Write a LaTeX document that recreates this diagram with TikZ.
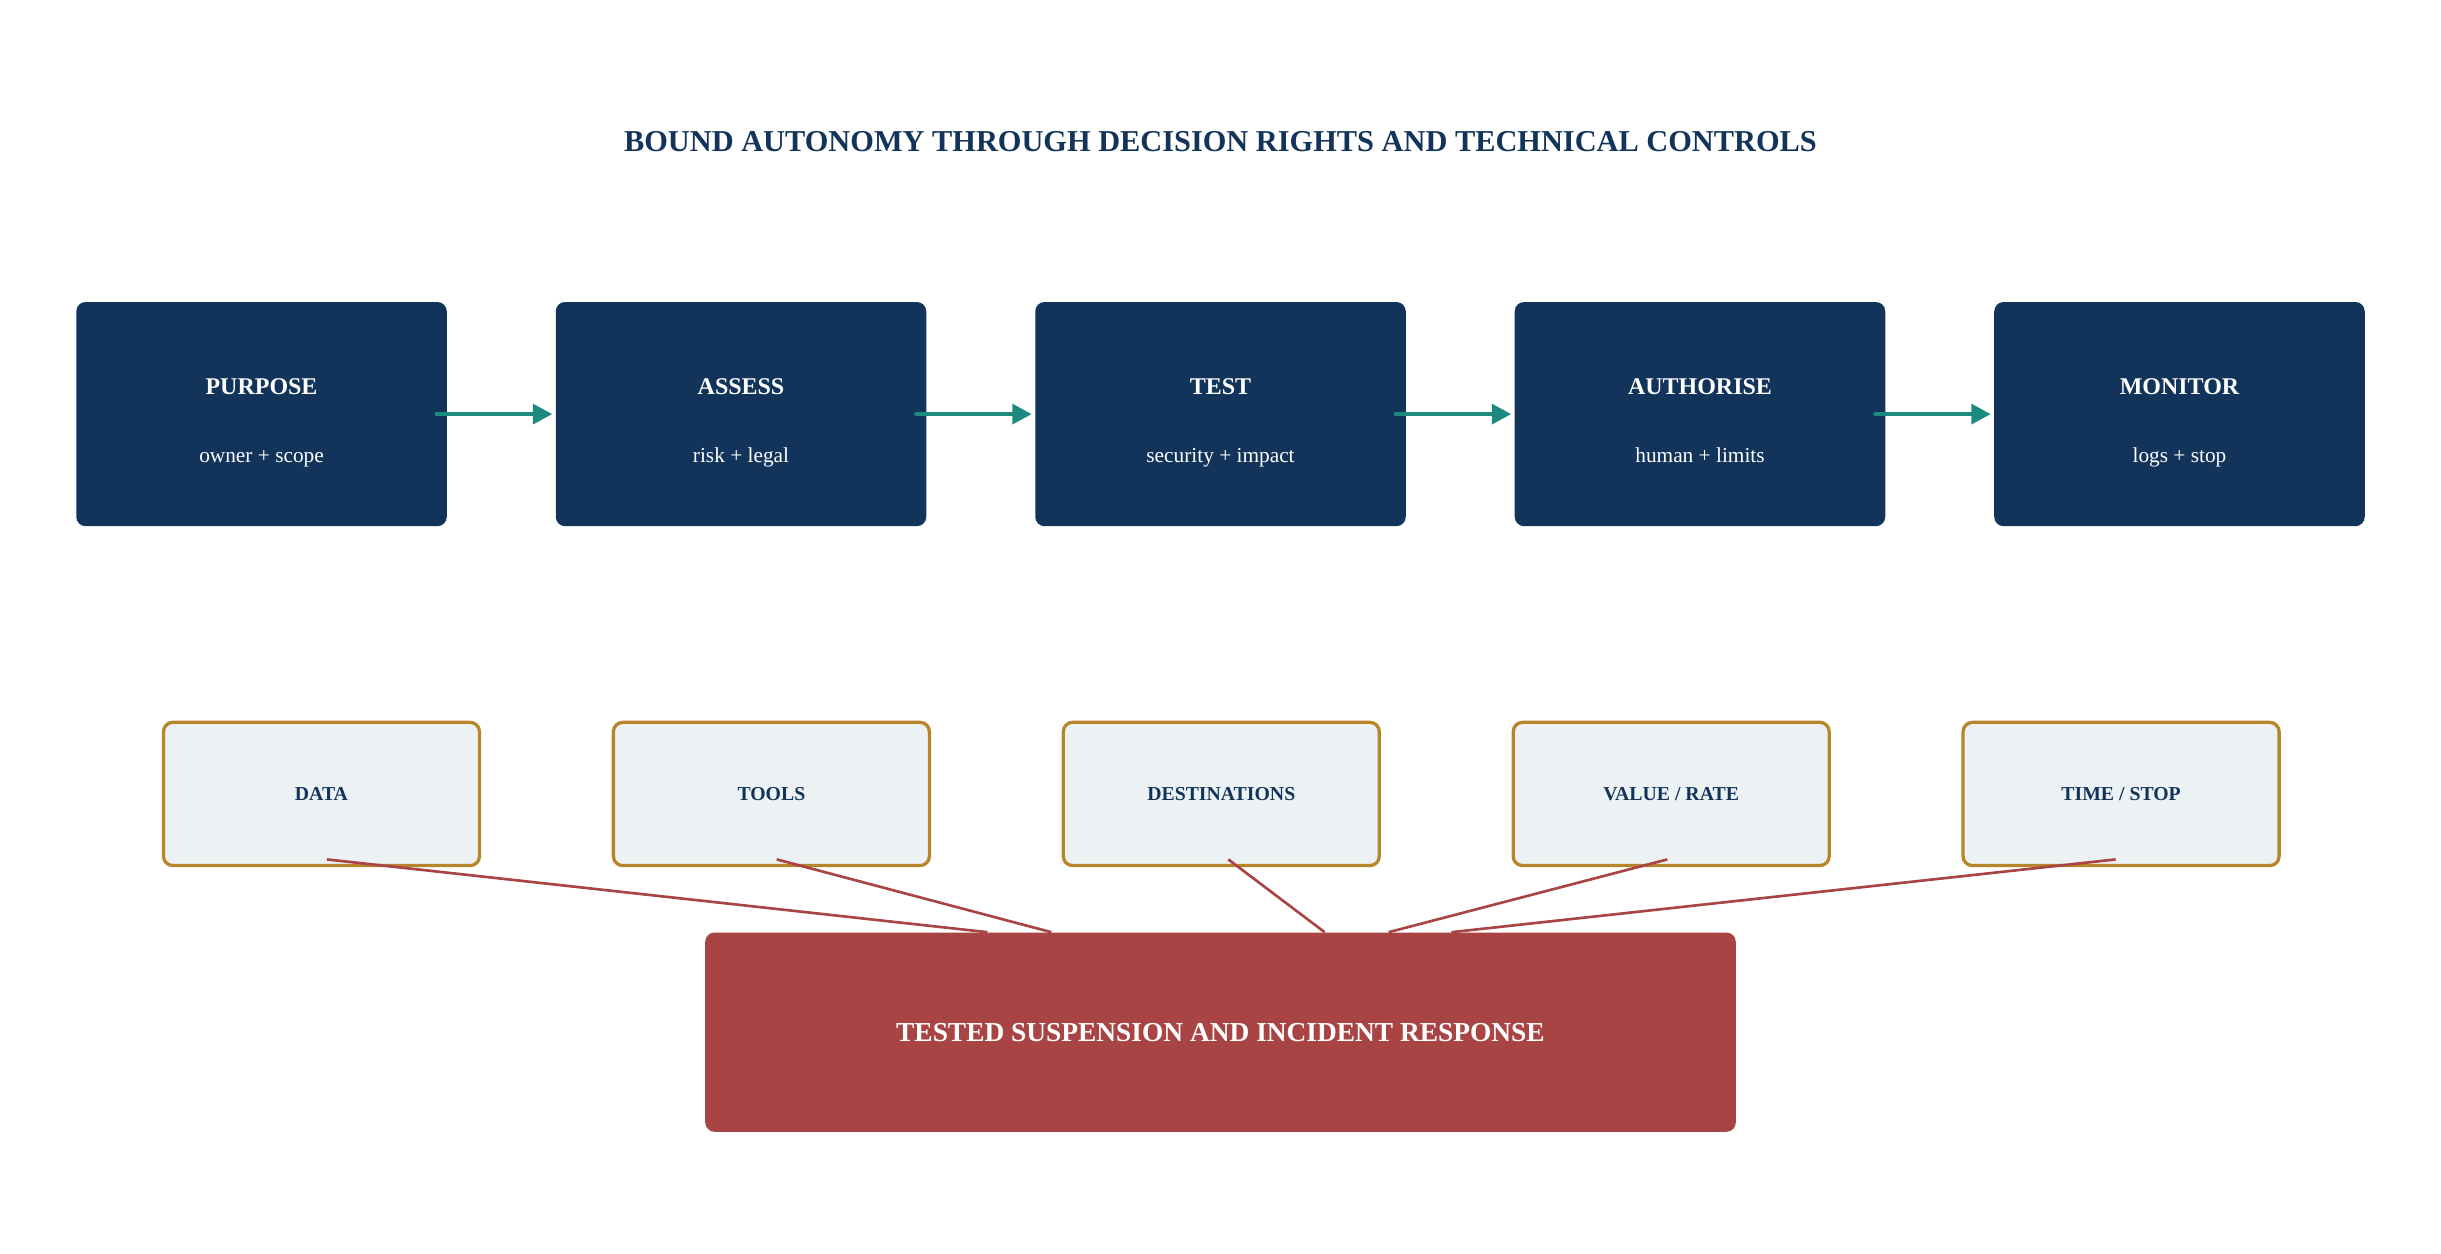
\documentclass[tikz,border=0pt]{standalone}
\usepackage{fontspec}
\setmainfont{Liberation Serif}
\usetikzlibrary{arrows.meta,calc}
\definecolor{navy}{HTML}{13345A}
\definecolor{flowteal}{HTML}{1D8A7F}
\definecolor{gold}{HTML}{B8862A}
\definecolor{pale}{HTML}{ECF1F4}
\definecolor{alert}{HTML}{A84444}
\begin{document}
\begin{tikzpicture}[x=1pt,y=-1pt,
    stagebox/.style={rectangle,fill=navy,rounded corners=6pt,minimum width=238pt,minimum height=144pt},
    stagehead/.style={anchor=base,text=white,font=\fontsize{15.4}{18}\selectfont\bfseries},
    stagesub/.style={anchor=base,text=white,font=\fontsize{13.7}{16}\selectfont},
    limitbox/.style={rectangle,draw=gold,line width=2.1pt,fill=pale,rounded corners=6pt,minimum width=203pt,minimum height=92pt,text=navy,font=\fontsize{12.7}{15}\selectfont\bfseries},
    flow/.style={draw=flowteal,line width=3pt,line cap=round,-{Triangle[length=12.5pt,width=12.5pt]}},
    link/.style={draw=alert,line width=1.7pt}]
\useasboundingbox (0,0) rectangle (1568,805);
\node[anchor=base,text=navy,font=\fontsize{19.5}{23}\selectfont\bfseries] (node0) at (784,97.4) {BOUND AUTONOMY THROUGH DECISION RIGHTS AND TECHNICAL CONTROLS};
% decision steps
\node[stagebox] (node1) at (168,266) {};
\node[stagebox,xshift=308pt] (node2) at (node1.center) {};
\node[stagebox,xshift=308pt] (node3) at (node2.center) {};
\node[stagebox,xshift=308pt] (node4) at (node3.center) {};
\node[stagebox,xshift=308pt] (node5) at (node4.center) {};
\node[stagehead,yshift=12.7pt] at (node1.center) {PURPOSE};
\node[stagesub,yshift=-31.2pt] at (node1.center) {owner + scope};
\node[stagehead,yshift=12.7pt] at (node2.center) {ASSESS};
\node[stagesub,yshift=-31.2pt] at (node2.center) {risk + legal};
\node[stagehead,yshift=12.7pt] at (node3.center) {TEST};
\node[stagesub,yshift=-31.2pt] at (node3.center) {security + impact};
\node[stagehead,yshift=12.7pt] at (node4.center) {AUTHORISE};
\node[stagesub,yshift=-31.2pt] at (node4.center) {human + limits};
\node[stagehead,yshift=12.7pt] at (node5.center) {MONITOR};
\node[stagesub,yshift=-31.2pt] at (node5.center) {logs + stop};
\draw[flow] ([xshift=-6.5pt]node1.east) -- ([xshift=-2pt]node2.west);
\draw[flow] ([xshift=-6.5pt]node2.east) -- ([xshift=-2pt]node3.west);
\draw[flow] ([xshift=-6.5pt]node3.east) -- ([xshift=-2pt]node4.west);
\draw[flow] ([xshift=-6.5pt]node4.east) -- ([xshift=-2pt]node5.west);
% technical controls
\node[limitbox] (node6) at (206.5,510) {DATA};
\node[limitbox,xshift=289pt] (node7) at (node6.center) {TOOLS};
\node[limitbox,xshift=289pt] (node8) at (node7.center) {DESTINATIONS};
\node[limitbox,xshift=289pt] (node9) at (node8.center) {VALUE / RATE};
\node[limitbox,xshift=289pt] (node10) at (node9.center) {TIME / STOP};
% response
\node[rectangle,fill=alert,rounded corners=6pt,minimum width=662pt,minimum height=128pt,text=white,font=\fontsize{17.6}{21}\selectfont\bfseries] (node11) at (784,663) {TESTED SUSPENSION AND INCIDENT RESPONSE};
\draw[link] ([xshift=3.5pt,yshift=5pt]node6.south) -- ($(node11.north west)!0.274!(node11.north east)$);
\draw[link] ([xshift=3.5pt,yshift=5pt]node7.south) -- ($(node11.north west)!0.336!(node11.north east)$);
\draw[link] ([xshift=4.5pt,yshift=5pt]node8.south) -- ($(node11.north west)!0.601!(node11.north east)$);
\draw[link] ([xshift=-2.5pt,yshift=5pt]node9.south) -- ($(node11.north west)!0.663!(node11.north east)$);
\draw[link] ([xshift=-3.5pt,yshift=5pt]node10.south) -- ($(node11.north west)!0.724!(node11.north east)$);
\end{tikzpicture}
\end{document}
